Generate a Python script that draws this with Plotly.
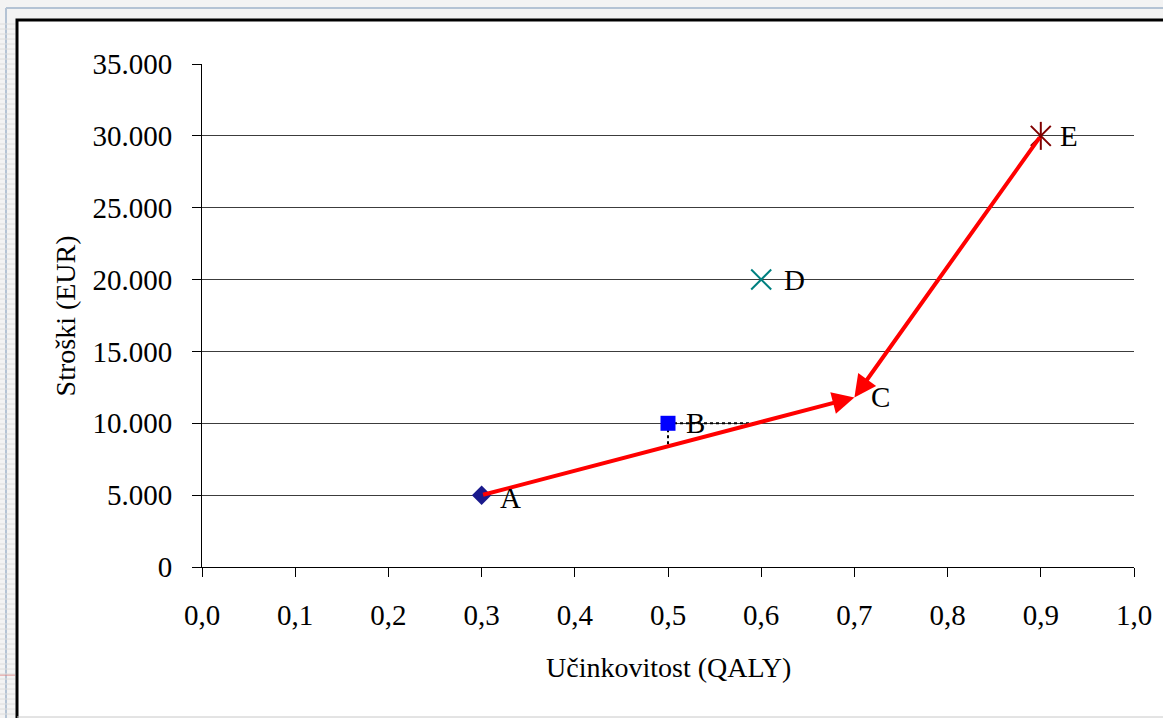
import plotly.graph_objects as go

# Strategies: effectiveness (QALY) and cost (EUR)
labels = ["A", "B", "C", "D", "E"]
qaly = [0.3, 0.5, 0.7, 0.6, 0.9]
cost = [5000, 10000, 11800, 20000, 30000]

x_ticks = [0.0, 0.1, 0.2, 0.3, 0.4, 0.5, 0.6, 0.7, 0.8, 0.9, 1.0]
y_ticks = [0, 5000, 10000, 15000, 20000, 25000, 30000, 35000]

FONT = "Liberation Serif, Times New Roman, serif"

pt = dict(zip(labels, zip(qaly, cost)))
ax_, ay_ = pt["A"]
cx_, cy_ = pt["C"]
bx_, by_ = pt["B"]
slope = (cy_ - ay_) / (cx_ - ax_)
# where B's dotted guides meet the A–C frontier
b_down_y = ay_ + slope * (bx_ - ax_)
b_right_x = ax_ + (by_ - ay_) / slope

fig = go.Figure()

# dotted guides from B to the frontier
fig.add_trace(go.Scatter(x=[bx_, bx_], y=[by_, b_down_y], mode="lines",
                         line=dict(color="black", width=2, dash="dot"),
                         hoverinfo="skip", showlegend=False))
fig.add_trace(go.Scatter(x=[bx_, b_right_x], y=[by_, by_], mode="lines",
                         line=dict(color="black", width=2, dash="dot"),
                         hoverinfo="skip", showlegend=False))

marker_styles = {
    "A": dict(symbol="diamond", color="#1a1a8c", size=15),
    "B": dict(symbol="square", color="#0000ff", size=15),
    "D": dict(symbol="x-thin-open", color="#008080", size=20,
              line=dict(width=2, color="#008080")),
}
for name, style in marker_styles.items():
    x, y = pt[name]
    fig.add_trace(go.Scatter(x=[x], y=[y], mode="markers", marker=style,
                             name=name, showlegend=False))

# E drawn as an Excel-style star: an x with a vertical stroke
ex_, ey_ = pt["E"]
for sym in ["x-thin-open", "line-ns-open"]:
    fig.add_trace(go.Scatter(x=[ex_], y=[ey_], mode="markers",
                             marker=dict(symbol=sym, size=20, color="#800000",
                                         line=dict(width=2, color="#800000")),
                             showlegend=False))

annotations = []
# efficiency frontier arrows converging on C
for src in ["A", "E"]:
    sx, sy = pt[src]
    annotations.append(dict(x=cx_, y=cy_, ax=sx, ay=sy, xref="x", yref="y",
                            axref="x", ayref="y", text="", showarrow=True,
                            arrowhead=2, arrowsize=1.1, arrowwidth=4,
                            arrowcolor="#ff0000", standoff=0))

label_shift = {"A": (16, -3), "B": (16, 0), "C": (15, 0), "D": (21, 0), "E": (17, 0)}
for name in labels:
    x, y = pt[name]
    dx, dy = label_shift[name]
    annotations.append(dict(x=x, y=y, xref="x", yref="y", text=name,
                            showarrow=False, xanchor="left", yanchor="middle",
                            xshift=dx, yshift=dy,
                            font=dict(family=FONT, size=29, color="black")))

# axis titles
annotations.append(dict(x=0.5, y=-0.2, xref="paper", yref="paper",
                        text="Učinkovitost (QALY)", showarrow=False,
                        xanchor="center", yanchor="middle",
                        font=dict(family=FONT, size=28, color="black")))
annotations.append(dict(x=-0.146, y=0.5, xref="paper", yref="paper",
                        text="Stroški (EUR)", showarrow=False, textangle=-90,
                        xanchor="center", yanchor="middle",
                        font=dict(family=FONT, size=28, color="black")))

# plot area: x 202..1134 px, y 64..567 px
W, H = 1163, 718
L, R, T, B = 202, 29, 64, 151
pw, ph = W - L - R, H - T - B


def px(xp):
    return (xp - L) / pw


def py(yp):
    return (H - B - yp) / ph


shapes = [
    # white chart sheet with heavy black frame
    dict(type="rect", xref="paper", yref="paper", layer="below",
         x0=px(17), x1=px(1175), y0=py(730), y1=py(20),
         fillcolor="white", line=dict(color="black", width=3)),
    # slide background guide lines
    dict(type="line", xref="paper", yref="paper", layer="below",
         x0=px(6), x1=px(6), y0=py(718), y1=py(8),
         line=dict(color="#b4c3d4", width=2)),
    dict(type="line", xref="paper", yref="paper", layer="below",
         x0=px(6), x1=px(1163), y0=py(8), y1=py(8),
         line=dict(color="#b4c3d4", width=2)),
    dict(type="line", xref="paper", yref="paper", layer="below",
         x0=px(0), x1=px(15), y0=py(675), y1=py(675),
         line=dict(color="#e08080", width=1)),
    dict(type="line", xref="paper", yref="paper", layer="below",
         x0=px(17), x1=px(1163), y0=py(717), y1=py(717),
         line=dict(color="#c8c8c8", width=1)),
]
# faint horizontal stripes in the margin strip
for yy in range(24, 718, 5):
    shapes.append(dict(type="line", xref="paper", yref="paper", layer="below",
                       x0=px(0), x1=px(15), y0=py(yy), y1=py(yy),
                       line=dict(color="#dcdcdc", width=1)))

fig.update_layout(
    width=W, height=H,
    margin=dict(l=L, r=R, t=T, b=B),
    paper_bgcolor="#f3f3f3",
    plot_bgcolor="rgba(0,0,0,0)",
    separators=",.",
    showlegend=False,
    shapes=shapes,
    annotations=annotations,
    font=dict(family=FONT, color="black"),
    xaxis=dict(range=[0, 1.0], tickvals=x_ticks, tickformat=".1f",
               showgrid=False, zeroline=False, showline=True,
               linecolor="black", linewidth=1, ticks="outside", ticklen=9,
               tickcolor="black", tickwidth=1, ticklabelstandoff=13,
               tickfont=dict(family=FONT, size=29, color="black")),
    yaxis=dict(range=[0, 35000], tickvals=y_ticks, tickformat=",d",
               showgrid=True, gridcolor="#3c3c3c", gridwidth=1,
               zeroline=False, showline=True, linecolor="black", linewidth=1,
               ticks="outside", ticklen=9, tickcolor="black", tickwidth=1,
               ticklabelstandoff=14,
               tickfont=dict(family=FONT, size=29, color="black")),
)

fig.write_html("out.html")
